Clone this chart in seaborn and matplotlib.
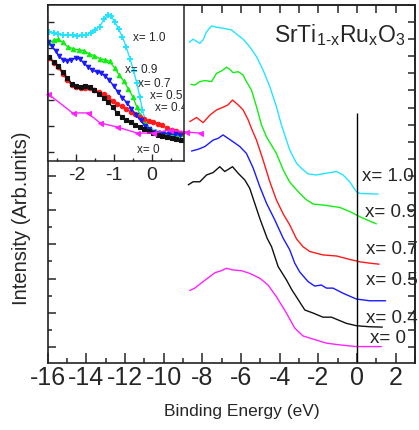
import matplotlib
matplotlib.use("Agg")
import matplotlib.pyplot as plt
import numpy as np
import pandas as pd
import seaborn as sns
from matplotlib.ticker import MultipleLocator

# ---------------- main panel data (binding energy eV, intensity arb.) -------------
E_x10 = [-8.68, -8.48, -8.13, -7.96, -7.78, -7.52, -7.27, -6.93, -6.49, -6.23, -5.89, -5.55,
         -5.20, -4.86, -4.51, -4.17, -3.91, -3.48, -3.13, -2.79, -2.53, -2.10, -1.58, -1.06,
         -0.72, -0.38, -0.03, 0.14, 1.09]
I_x10 = [8.91, 9.00, 8.88, 8.98, 9.22, 9.39, 9.35, 9.32, 9.27, 9.15, 9.00, 8.78,
         8.49, 8.10, 7.61, 7.03, 6.49, 5.76, 5.37, 5.18, 5.06, 5.03, 5.08, 5.13,
         5.03, 4.83, 4.54, 4.49, 4.47]

E_x09 = [-8.59, -8.39, -8.13, -7.87, -7.52, -7.27, -7.01, -6.75, -6.58, -6.41, -6.15, -5.89,
         -5.72, -5.46, -5.20, -4.94, -4.68, -4.17, -3.82, -3.48, -2.96, -2.61, -2.27, -1.76,
         -0.89, -0.38, 0.14, 0.66, 1.00]
I_x09 = [7.68, 7.66, 7.76, 7.79, 7.76, 8.00, 8.07, 8.18, 8.12, 8.02, 8.05, 7.95,
         7.76, 7.51, 7.03, 6.49, 6.14, 5.66, 5.18, 4.82, 4.49, 4.30, 4.18, 4.15,
         4.08, 3.96, 3.81, 3.68, 3.60]

E_x07 = [-8.65, -8.30, -7.96, -7.61, -7.27, -6.93, -6.67, -6.44, -6.15, -5.89, -5.63, -5.46,
         -5.20, -4.86, -4.51, -4.17, -3.82, -3.48, -3.13, -2.79, -2.44, -1.76, -1.06, -0.38,
         0.14, 0.66, 1.14]
I_x07 = [6.59, 6.71, 6.56, 6.78, 6.93, 7.01, 7.08, 7.22, 7.08, 6.93, 6.64, 6.39,
         6.05, 5.47, 4.83, 4.30, 3.89, 3.57, 3.16, 2.93, 2.79, 2.69, 2.66, 2.56,
         2.49, 2.45, 2.42]

E_x05 = [-8.56, -8.22, -7.87, -7.44, -7.18, -6.93, -6.67, -6.41, -6.06, -5.72, -5.37, -5.03,
         -4.68, -4.25, -3.82, -3.48, -3.22, -2.96, -2.53, -2.19, -1.84, -1.58, -1.24, -0.72,
         -0.03, 0.66, 1.48]
I_x05 = [5.73, 5.78, 5.86, 6.05, 6.10, 6.20, 6.10, 6.00, 5.86, 5.66, 5.23, 4.69,
         4.20, 3.71, 3.18, 2.84, 2.45, 2.19, 1.91, 1.78, 1.81, 1.72, 1.72, 1.57,
         1.40, 1.35, 1.35]

E_x04 = [-8.73, -8.48, -8.13, -7.78, -7.44, -7.10, -6.84, -6.44, -6.15, -5.80, -5.55, -5.29,
         -5.03, -4.65, -4.42, -4.08, -3.65, -3.37, -3.13, -2.70, -2.27, -1.76, -1.32, -0.98,
         -0.55, -0.03, 0.66, 1.31]
I_x04 = [4.74, 4.83, 4.83, 5.03, 5.10, 5.27, 5.13, 5.27, 5.08, 4.88, 4.64, 4.20,
         3.76, 3.18, 2.93, 2.35, 1.96, 1.67, 1.46, 1.08, 0.99, 0.87, 0.87, 0.79,
         0.69, 0.62, 0.59, 0.58]

E_x00 = [-8.65, -8.39, -7.96, -7.35, -7.01, -6.75, -6.41, -5.97, -5.55, -5.03, -4.60, -4.17,
         -3.65, -3.22, -2.79, -2.27, -1.58, -0.89, -0.03, 0.66, 1.26]
I_x00 = [1.65, 1.72, 1.91, 2.17, 2.23, 2.30, 2.25, 2.23, 2.15, 2.01, 1.81, 1.47,
         0.99, 0.55, 0.32, 0.23, 0.11, 0.06, 0.01, 0.01, 0.01]

# ---------------- inset data (near Fermi level) -------------
iE_x10 = [-2.72, -2.60, -2.48, -2.35, -2.22, -2.10, -1.98, -1.86, -1.74, -1.62, -1.50, -1.38,
          -1.27, -1.17, -1.08, -0.98, -0.88, -0.78, -0.68, -0.58, -0.48, -0.40, -0.32, -0.25,
          -0.17, -0.09, 0.00, 0.10, 0.22, 0.34, 0.46, 0.58, 0.70, 0.82]
iI_x10 = [8.27, 8.18, 8.14, 8.10, 8.08, 8.05, 8.01, 8.05, 8.08, 8.22, 8.40, 8.62,
          9.08, 9.33, 9.30, 8.90, 8.45, 7.95, 7.30, 6.55, 5.75, 5.00, 4.10, 3.30,
          2.55, 2.10, 1.95, 1.86, 1.82, 1.79, 1.79, 1.76, 1.73, 1.73]

iE_x09 = [-2.72, -2.60, -2.48, -2.36, -2.22, -2.08, -1.94, -1.80, -1.66, -1.52, -1.38, -1.25,
          -1.12, -0.98, -0.86, -0.74, -0.62, -0.50, -0.40, -0.31, -0.22, -0.13, -0.04, 0.06,
          0.18, 0.30, 0.42, 0.54, 0.66, 0.78]
iI_x09 = [7.56, 7.75, 7.82, 7.60, 7.31, 7.20, 7.12, 7.08, 6.85, 6.75, 6.56, 6.50,
          6.38, 5.95, 5.50, 5.10, 4.62, 4.10, 3.46, 2.95, 2.55, 2.20, 1.98, 1.86,
          1.82, 1.79, 1.77, 1.76, 1.74, 1.73]

# red curve (circles)
iE_x07 = [-2.72, -2.60, -2.48, -2.36, -2.24, -2.12, -2.00, -1.88, -1.76, -1.64, -1.52, -1.40,
          -1.28, -1.16, -1.04, -0.92, -0.80, -0.68, -0.56, -0.44, -0.32, -0.20, -0.08, 0.04,
          0.16, 0.28, 0.40, 0.52, 0.64, 0.76]
iI_x07 = [6.60, 6.30, 6.00, 5.60, 5.19, 4.85, 4.72, 4.70, 4.68, 4.66, 4.55, 4.42,
          4.30, 4.12, 3.85, 3.66, 3.50, 3.33, 3.15, 3.00, 2.82, 2.70, 2.58, 2.50,
          2.40, 2.28, 2.12, 2.00, 1.90, 1.80]

# blue curve (down triangles)
iE_x05 = [-2.74, -2.65, -2.55, -2.45, -2.35, -2.25, -2.13, -2.00, -1.90, -1.80, -1.70, -1.58,
          -1.46, -1.35, -1.24, -1.13, -1.01, -0.90, -0.78, -0.66, -0.54, -0.42, -0.30, -0.18,
          -0.08, 0.04, 0.16, 0.30, 0.45, 0.60, 0.75]
iI_x05 = [7.63, 7.35, 7.05, 6.70, 6.47, 6.41, 6.50, 6.60, 6.52, 6.28, 6.05, 5.83,
          5.70, 5.64, 5.45, 5.19, 4.80, 4.42, 4.07, 3.72, 3.35, 2.95, 2.60, 2.25,
          2.05, 1.85, 1.79, 1.75, 1.73, 1.70, 1.67]

iE_x04 = [-2.72, -2.60, -2.48, -2.36, -2.24, -2.12, -2.00, -1.88, -1.76, -1.64, -1.52, -1.40,
          -1.28, -1.16, -1.04, -0.92, -0.80, -0.68, -0.56, -0.44, -0.32, -0.20, -0.08, 0.04,
          0.16, 0.28, 0.40, 0.52, 0.64, 0.76]
iI_x04 = [6.67, 6.35, 6.10, 5.70, 5.32, 4.95, 4.78, 4.76, 4.78, 4.74, 4.55, 4.30,
          4.05, 3.78, 3.45, 3.08, 2.85, 2.63, 2.48, 2.31, 2.18, 2.05, 1.95, 1.80,
          1.66, 1.58, 1.52, 1.47, 1.40, 1.36]

iE_x00 = [-2.74, -2.10, -1.70, -1.37, -0.92, -0.39, 0.03, 0.47, 0.90, 1.27]
iI_x00 = [4.29, 3.08, 3.08, 2.44, 2.18, 1.79, 1.79, 1.99, 1.86, 1.79]

labels = ["x= 1.0", "x= 0.9", "x= 0.7", "x= 0.5", "x= 0.4", "x= 0"]
colors = ["#22e4ff", "#11ee11", "#ff1a1a", "#1a1aff", "#111111", "#ff22ff"]
markers = ["+", "^", "o", "v", "s", "<"]

main_E = [E_x10, E_x09, E_x07, E_x05, E_x04, E_x00]
main_I = [I_x10, I_x09, I_x07, I_x05, I_x04, I_x00]
ins_E = [iE_x10, iE_x09, iE_x07, iE_x05, iE_x04, iE_x00]
ins_I = [iI_x10, iI_x09, iI_x07, iI_x05, iI_x04, iI_x00]

# label anchor positions (data coords)
main_lab_x = [0.28, 0.40, 0.45, 0.45, 0.45, 0.65]
main_lab_y = [4.97, 3.92, 2.84, 1.93, 0.84, 0.26]
ins_lab_x = [-0.50, -0.71, -0.37, -0.05, 0.08, -0.39]
ins_lab_y = [7.88, 5.83, 4.92, 4.15, 3.40, 0.71]

sns.set_style("ticks")
plt.rcParams["font.family"] = ["Liberation Sans", "DejaVu Sans"]
plt.rcParams["mathtext.fontset"] = "custom"
plt.rcParams["mathtext.rm"] = "Liberation Sans"
plt.rcParams["mathtext.it"] = "Liberation Sans:italic"
plt.rcParams["axes.unicode_minus"] = False

W, H = 419, 430
fig = plt.figure(figsize=(W / 100, H / 100), dpi=100)
ax = fig.add_axes([47.7 / W, (H - 363) / H, (415 - 47.7) / W, (363 - 5) / H])
ins = fig.add_axes([48 / W, (H - 161) / H, (184 - 48) / W, (161 - 5) / H], zorder=3)

for E, I, c in zip(main_E, main_I, colors):
    df = pd.DataFrame({"E": E, "I": I})
    sns.lineplot(data=df, x="E", y="I", ax=ax, color=c, lw=1.0, sort=False,
                 estimator=None, legend=False)

for E, I, c, m in zip(ins_E, ins_I, colors, markers):
    df = pd.DataFrame({"E": E, "I": I})
    kw = dict(marker=m, markersize=3.2, markeredgecolor=c, markerfacecolor=c,
              markeredgewidth=0.8)
    if m == "+":
        kw.update(markersize=4.5, markeredgewidth=1.4)
    if m == "<":
        kw.update(markersize=3.6)
    sns.lineplot(data=df, x="E", y="I", ax=ins, color=c, lw=1.0, sort=False,
                 estimator=None, legend=False, clip_on=(m != "<"), **kw)

# ---------------- main axes styling ----------------
ax.set_xlim(-16, 3)
ax.set_ylim(-0.47, 10.0)
ax.vlines(0, -0.47, 6.84, color="black", lw=1.0)
ax.xaxis.set_major_locator(MultipleLocator(2))
ax.xaxis.set_minor_locator(MultipleLocator(1))
ax.yaxis.set_major_locator(MultipleLocator(1))
ax.yaxis.set_minor_locator(MultipleLocator(0.5))
ax.tick_params(axis="x", which="major", direction="in", length=7, width=1.1,
               labelsize=18, pad=2)
ax.tick_params(axis="x", which="minor", direction="in", length=3.5, width=1.1)
ax.tick_params(axis="y", which="major", direction="in", length=6, width=1.1,
               labelleft=False)
ax.tick_params(axis="y", which="minor", direction="in", length=3, width=1.1)
for s in ax.spines.values():
    s.set_linewidth(1.2)
    s.set_color("#222222")
    s.set_visible(True)

top = ax.secondary_xaxis("top")
top.xaxis.set_major_locator(MultipleLocator(1))
top.tick_params(direction="in", length=6, width=1.1, labeltop=False)
top.spines["top"].set_linewidth(1.2)
right = ax.secondary_yaxis("right")
right.yaxis.set_major_locator(MultipleLocator(0.5))
right.tick_params(direction="in", length=5, width=1.1, labelright=False)
right.spines["right"].set_linewidth(1.2)

ax.set_xlabel("Binding Energy (eV)", fontsize=12.5)
ax.xaxis.set_label_coords((242 - 47.7) / 367.3, (363 - 404) / 358)
ax.set_ylabel("Intensity (Arb.units)", fontsize=14.5)
ax.yaxis.set_label_coords((31 - 47.7) / 367.3, (363 - 218) / 358)

for lx, ly, t in zip(main_lab_x, main_lab_y, labels):
    ax.text(lx, ly, t, fontsize=13.5, ha="left", va="center")

ax.text(0.973, 0.897, r"SrTi$_{\mathrm{1\text{-}x}}$Ru$_{\mathrm{x}}$O$_{\mathrm{3}}$",
        transform=ax.transAxes, fontsize=16.5, ha="right", va="baseline")

# ---------------- inset styling ----------------
ins.set_facecolor("white")
ins.set_xlim(-2.75, 0.85)
ins.set_ylim(0, 10)
ins.xaxis.set_major_locator(MultipleLocator(1))
ins.xaxis.set_minor_locator(MultipleLocator(0.5))
ins.yaxis.set_major_locator(MultipleLocator(5 / 3, offset=0.58))
ins.tick_params(axis="x", which="major", direction="in", length=5, width=1.0,
                labelsize=14, pad=4)
ins.tick_params(axis="x", which="minor", direction="in", length=2.5, width=1.0)
ins.tick_params(axis="y", which="major", direction="in", length=4, width=1.0,
                labelleft=False)
ins.set_xlabel("")
ins.set_ylabel("")
for s in ins.spines.values():
    s.set_linewidth(1.1)
    s.set_color("#222222")
    s.set_visible(True)
for lx, ly, t in zip(ins_lab_x, ins_lab_y, labels):
    ins.text(lx, ly, t, fontsize=8.5, ha="left", va="center", clip_on=True)

fig.savefig("out.png", dpi=100)
